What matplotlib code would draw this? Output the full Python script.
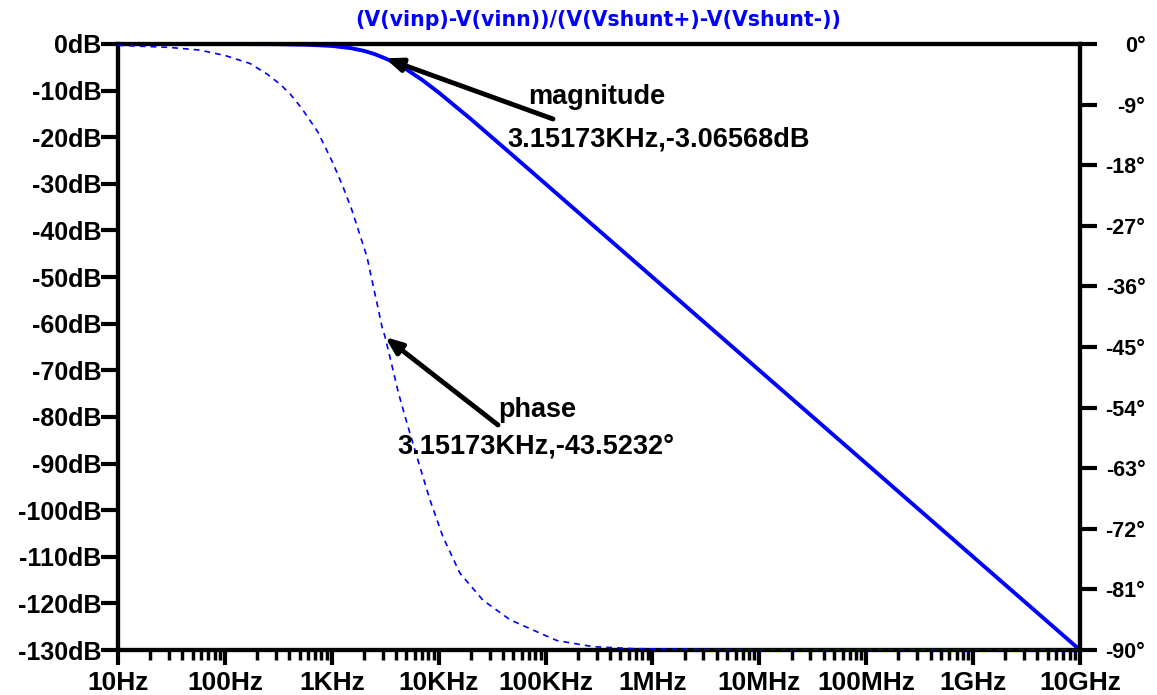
import matplotlib
matplotlib.use("Agg")
from matplotlib import pyplot as plt
from matplotlib.ticker import FixedLocator, LogLocator, NullFormatter
import numpy as np

plt.rcParams['font.family'] = ['Liberation Sans', 'DejaVu Sans']
plt.rcParams['font.weight'] = 'bold'

# values
freq = [10, 100, 300, 600, 1e3, 1.5e3, 2e3, 2.5e3, 3151.73, 4e3, 5e3, 7e3,
        1e4, 2e4, 3e4, 5e4, 1e5, 1e6, 1e7, 1e8, 1e9, 1e10]
mag_db = [0, 0, -0.04, -0.16, -0.41, -0.88, -1.47, -2.14, -3.07, -4.1, -5.46, -7.7,
          -10.4, -16.1, -19.6, -24.0, -30.0, -50, -70, -90, -110, -130]
phase_f = [10, 30, 58, 100, 172, 250, 330, 407, 526, 743, 1026, 1273, 1545, 1836, 2135,
           2378, 2648, 2950, 3151.73, 3500, 4200, 5050, 6680, 8290, 10970, 15820, 25960,
           46430, 94600, 128000, 277000, 658000, 1e7, 1e10]
phase_deg = [-0.2, -0.5, -0.9, -1.7, -2.9, -4.5, -6.0, -7.4, -9.6, -13.1, -17.7, -21.2,
             -24.7, -28.4, -31.6, -35.1, -38.5, -42.0, -43.5, -46.5, -51.8, -56.3, -62.8,
             -67.7, -73.2, -78.6, -82.6, -85.5, -87.7, -88.6, -89.5, -89.8, -90, -90]

xticks = [10, 100, 1e3, 1e4, 1e5, 1e6, 1e7, 1e8, 1e9, 1e10]
xlabels = ['10Hz', '100Hz', '1KHz', '10KHz', '100KHz', '1MHz', '10MHz', '100MHz', '1GHz', '10GHz']
db_ticks = list(range(0, -140, -10))
deg_ticks = list(range(0, -99, -9))

title = '(V(vinp)-V(vinn))/(V(Vshunt+)-V(Vshunt-))'
blue = '#0000ff'

fig = plt.figure(figsize=(11.57, 6.95), dpi=100)
ax = fig.add_axes([118/1157, 1-650/695, 962/1157, 606/695])
ax2 = ax.twinx()

ax.plot(freq, mag_db, color=blue, lw=2.8, zorder=3)
ax2.plot(phase_f, phase_deg, color=blue, lw=1.2, ls=(0, (3.5, 3)), zorder=3)

ax.set_xscale('log')
ax.set_xlim(10, 1e10)
ax.set_ylim(-130, 0)
ax2.set_ylim(-90, 0)

ax.xaxis.set_major_locator(FixedLocator(xticks))
ax.set_xticklabels(xlabels)
ax.xaxis.set_minor_locator(LogLocator(base=10, subs=np.arange(2, 10), numticks=20))
ax.xaxis.set_minor_formatter(NullFormatter())

ax.set_yticks(db_ticks)
ax.set_yticklabels(['%ddB' % v for v in db_ticks])
ax2.set_yticks(deg_ticks)
ax2.set_yticklabels(['%d\u00b0' % v for v in deg_ticks])

for a in (ax, ax2):
    for s in a.spines.values():
        s.set_linewidth(3)
ax.tick_params(axis='x', which='major', direction='out', length=11, width=3, pad=4, labelsize=19)
ax.tick_params(axis='x', which='minor', direction='out', length=7, width=2.5)
ax.tick_params(axis='y', direction='out', length=12, width=3, pad=0, labelsize=18)
ax2.tick_params(axis='y', direction='out', length=12, width=3, pad=35, labelsize=15.5)
for lab in ax2.get_yticklabels():
    lab.set_horizontalalignment('right')

fig.text(598/1157, 1-20/695, title, color=blue, fontsize=14.8, ha='center', va='center',
         family=['DejaVu Sans'], weight='bold')

def fx(px):
    return (px - 118) / 962

def fy(py):
    return (650 - py) / 606

arrow = dict(arrowstyle='-|>,head_length=1.0,head_width=0.4', color='k', lw=3.5, shrinkA=0, shrinkB=0)
ax.annotate('', xy=(3151.73, -3.07), xycoords='data',
            xytext=(fx(553), fy(119)), textcoords='axes fraction', arrowprops=arrow)
ax.text(fx(528), fy(97), 'magnitude', transform=ax.transAxes, fontsize=19.5, va='center', ha='left')
ax.text(fx(507), fy(140), '3.15173KHz,-3.06568dB', transform=ax.transAxes, fontsize=19.5,
        va='center', ha='left')

ax2.annotate('', xy=(3151.73, -43.52), xycoords='data',
             xytext=(fx(498), fy(425)), textcoords='axes fraction', arrowprops=arrow)
ax2.text(fx(498), fy(410), 'phase', transform=ax2.transAxes, fontsize=19.5, va='center', ha='left')
ax2.text(fx(397), fy(447), '3.15173KHz,-43.5232\u00b0', transform=ax2.transAxes, fontsize=19.5,
         va='center', ha='left')

fig.savefig('out.png', dpi=100, facecolor='white')
